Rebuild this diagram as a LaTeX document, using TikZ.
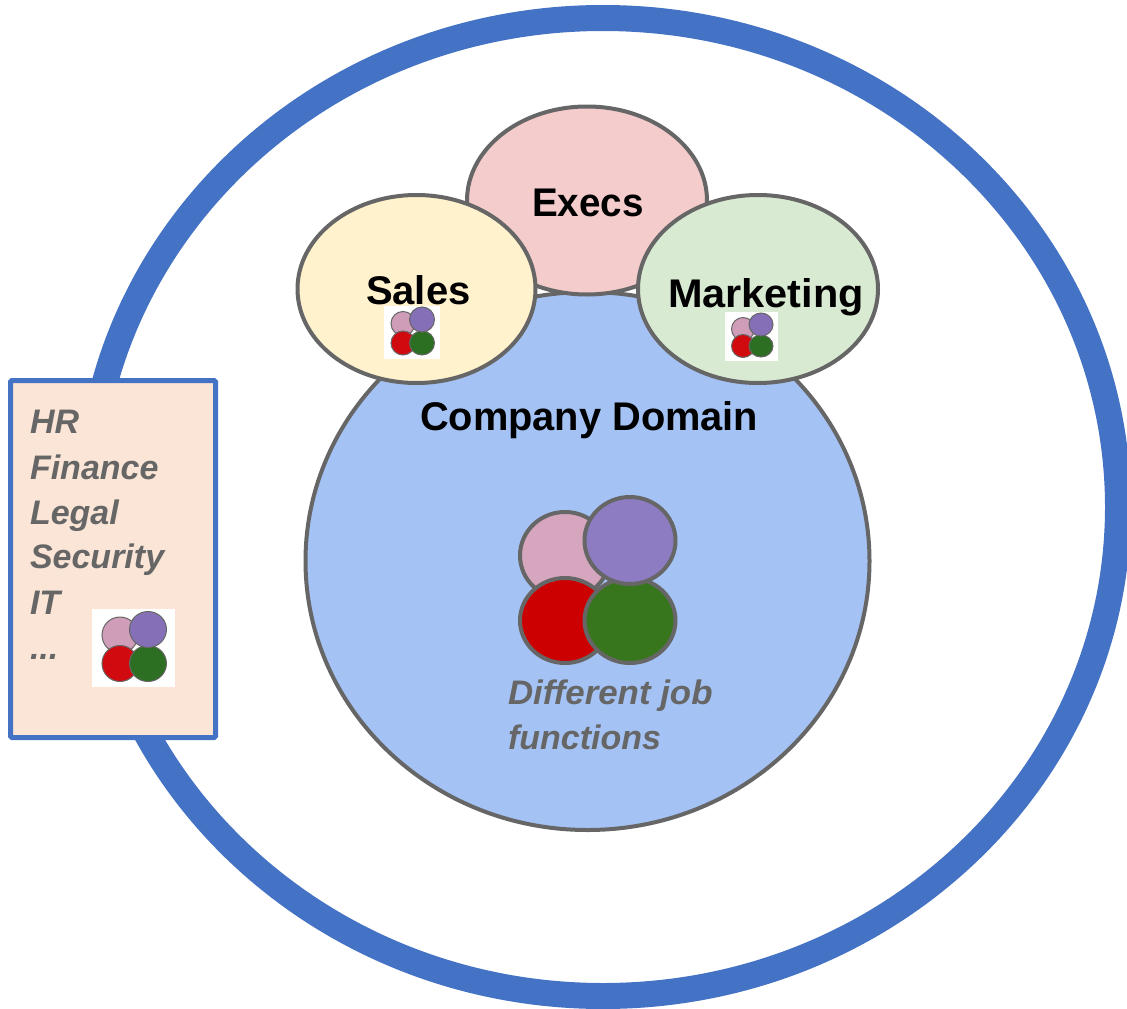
\documentclass[tikz,border=0pt]{standalone}
\usepackage{fontspec}
\setmainfont{Liberation Sans}
\usetikzlibrary{shapes.geometric}
\definecolor{ringblue}{HTML}{4472C4}
\definecolor{linegrey}{HTML}{666666}
\definecolor{domainfill}{HTML}{A4C2F4}
\definecolor{execfill}{HTML}{F4CCCC}
\definecolor{salesfill}{HTML}{FFF2CC}
\definecolor{mktfill}{HTML}{D9EAD3}
\definecolor{boxfill}{HTML}{FBE5D6}
\definecolor{cpink}{HTML}{D5A6BD}
\definecolor{cpurple}{HTML}{8E7CC3}
\definecolor{cred}{HTML}{CC0000}
\definecolor{cgreen}{HTML}{38761D}
\definecolor{ipink}{HTML}{D09DB8}
\definecolor{ipurple}{HTML}{8570B8}
\definecolor{ired}{HTML}{D00A0E}
\definecolor{igreen}{HTML}{2C6E22}
\tikzset{
  x=1pt,y=-1pt,
  blob/.style={ellipse,draw=linegrey,line width=4pt,inner sep=0pt,outer sep=0pt},
  dot/.style={ellipse,draw=linegrey,line width=1pt,inner sep=0pt,outer sep=0pt},
  iconbg/.style={rectangle,fill=white,draw=none,inner sep=0pt,outer sep=0pt},
  head/.style={anchor=base west,inner sep=0pt,outer sep=0pt,text=black,font=\fontsize{40}{40}\selectfont\bfseries},
  note/.style={anchor=base west,inner sep=0pt,outer sep=0pt,text=linegrey,font=\fontsize{34}{34}\selectfont\bfseries\itshape},
}
\begin{document}
\begin{tikzpicture}
\useasboundingbox (0,0) rectangle (1127,1009);
\node[ellipse,draw=ringblue,line width=26pt,fill=none,minimum width=1030pt,minimum height=978pt,inner sep=0pt,outer sep=0pt] (ring) at (603,507) {};
\node[blob,fill=domainfill,minimum width=564pt,minimum height=538pt] (domain) at (587.5,561) {};
\node[blob,fill=execfill,minimum width=240pt,minimum height=188pt] (execs) at (587,200.5) {};
\node[blob,fill=salesfill,minimum width=238pt,minimum height=188pt] (sales) at (416.5,289) {};
\node[blob,fill=mktfill,minimum width=240pt,minimum height=188pt] (marketing) at (758,289) {};
% job function cluster
\node[blob,fill=cpink,minimum width=90pt,minimum height=87pt] (pink) at (565,555.5) {};
\node[blob,fill=cred,minimum width=90pt,minimum height=85pt] (red) at (565,620.5) {};
\node[blob,fill=cgreen,minimum width=91pt,minimum height=85pt] (green) at (630,620.5) {};
\node[blob,fill=cpurple,minimum width=91pt,minimum height=87pt] (purple) at (630,540.5) {};
% side box
\node[rectangle,draw=ringblue,fill=boxfill,line width=5pt,rounded corners=1.5pt,minimum width=205pt,minimum height=357pt,inner sep=0pt,outer sep=0pt] (sidebox) at (113,559) {};
% icon in side box
\node[iconbg,minimum width=83pt,minimum height=78pt] (iconA) at (133.5,648) {};
\node[dot,fill=ipink,minimum width=36pt,minimum height=36pt] (iconApink) at (120,635) {};
\node[dot,fill=ired,minimum width=36pt,minimum height=36pt] (iconAred) at (120,663.5) {};
\node[dot,fill=igreen,minimum width=37pt,minimum height=36pt] (iconAgreen) at (148,663.5) {};
\node[dot,fill=ipurple,minimum width=37pt,minimum height=36pt] (iconApurple) at (148,629.5) {};
% icon in sales
\node[iconbg,minimum width=56pt,minimum height=53pt] (iconB) at (412,332.5) {};
\node[dot,fill=ipink,minimum width=24pt,minimum height=24pt] (iconBpink) at (403,323.5) {};
\node[dot,fill=ired,minimum width=24pt,minimum height=24pt] (iconBred) at (403,343) {};
\node[dot,fill=igreen,minimum width=25pt,minimum height=24pt] (iconBgreen) at (422,343) {};
\node[dot,fill=ipurple,minimum width=25pt,minimum height=25pt] (iconBpurple) at (422,319.5) {};
% icon in marketing
\node[iconbg,minimum width=53pt,minimum height=49pt] (iconC) at (751.5,336.5) {};
\node[dot,fill=ipink,minimum width=23pt,minimum height=23pt] (iconCpink) at (743,329) {};
\node[dot,fill=ired,minimum width=23pt,minimum height=23pt] (iconCred) at (743,346) {};
\node[dot,fill=igreen,minimum width=24pt,minimum height=22pt] (iconCgreen) at (761,346) {};
\node[dot,fill=ipurple,minimum width=24pt,minimum height=23pt] (iconCpurple) at (761,324.5) {};
% labels
\node[head] (texecs) at (532,216) {\scalebox{.965}[1]{Execs}};
\node[head] (tsales) at (366,304) {Sales};
\node[head] (tmkt) at (668,307) {\scalebox{1.037}[1]{Marketing}};
\node[head] (tdomain) at (420,430) {\scalebox{.995}[1]{Company Domain}};
\node[note] (tdiff) at (508,704) {\scalebox{1.025}[1]{Different job}};
\node[note] (tfunc) at (508,749) {functions};
\node[note] (thr) at (30,433) {HR};
\node[note] (tfin) at (30,479) {Finance};
\node[note] (tleg) at (30,524) {Legal};
\node[note] (tsec) at (30,568) {Security};
\node[note] (tit) at (30,614) {IT};
\node[note] (tdots) at (30,659) {...};
\end{tikzpicture}
\end{document}
